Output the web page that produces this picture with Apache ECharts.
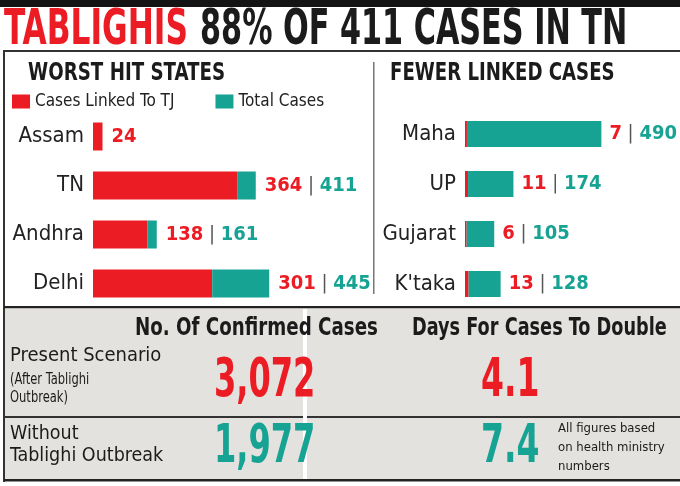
<!DOCTYPE html>
<html>
<head>
<meta charset="utf-8">
<script src="https://cdn.jsdelivr.net/npm/echarts@6/dist/echarts.min.js"></script>
<style>
  html, body { margin: 0; padding: 0; background: #fff; }
  #main { width: 680px; height: 486px; }
</style>
</head>
<body>
<div id="main"></div>
<script>
// worst hit states
const leftStates = ['Assam', 'TN', 'Andhra', 'Delhi'];
const leftLinked = [24, 364, 138, 301];
const leftTotal = [24, 411, 161, 445];
// fewer linked cases
const rightStates = ['Maha', 'UP', 'Gujarat', "K'taka"];
const rightLinked = [7, 11, 6, 13];
const rightTotal = [490, 174, 105, 128];
// bottom table
const scenarioNames = ['Present Scenario', 'Without'];
const confirmedCases = ['3,072', '1,977'];
const doublingDays = ['4.1', '7.4'];

const RED = '#ec1c24';
const TEAL = '#17a393';
const FONT = "'DejaVu Sans Condensed', sans-serif";

function rest(linked, total) {
  return total.map((t, i) => t - linked[i]);
}

function valueLabel(linked, total) {
  return function (p) {
    const i = p.dataIndex;
    if (total[i] === linked[i]) return '{r|' + linked[i] + '}';
    return '{r|' + linked[i] + '}{s| | }{t|' + total[i] + '}';
  };
}

const labelRich = {
  r: { color: RED, fontSize: 20, fontWeight: 'bold', fontFamily: FONT },
  s: { color: '#555', fontSize: 20, fontFamily: FONT },
  t: { color: TEAL, fontSize: 20, fontWeight: 'bold', fontFamily: FONT }
};

// squeezed text, the paper uses a narrow face
function txt(x, y, text, font, fill, sx, extra) {
  return {
    type: 'text', x: x, y: y, scaleX: sx || 1,
    style: Object.assign({ text: text, font: font, fill: fill, verticalAlign: 'top' }, extra || {})
  };
}

let chart = echarts.init(document.getElementById('main'));
chart.setOption({
  animation: false,
  legend: {
    left: 12, top: 93, padding: 0,
    itemWidth: 18, itemHeight: 14, itemGap: 41,
    icon: 'rect',
    data: ['Cases Linked To TJ', 'Total Cases'],
    textStyle: { fontSize: 17, color: '#222', fontFamily: FONT }
  },
  grid: [
    { left: 93, top: 112, width: 198, height: 196 },
    { left: 465, top: 109, width: 167, height: 200 }
  ],
  xAxis: [
    { gridIndex: 0, type: 'value', min: 0, max: 500, show: false },
    { gridIndex: 1, type: 'value', min: 0, max: 600, show: false }
  ],
  yAxis: [
    {
      gridIndex: 0, type: 'category', data: leftStates, inverse: true,
      axisLine: { show: false }, axisTick: { show: false },
      axisLabel: { fontSize: 22, color: '#222', margin: 9, fontFamily: FONT }
    },
    {
      gridIndex: 1, type: 'category', data: rightStates, inverse: true,
      axisLine: { show: false }, axisTick: { show: false },
      axisLabel: { fontSize: 22, color: '#222', margin: 9, fontFamily: FONT }
    }
  ],
  series: [
    {
      name: 'Cases Linked To TJ', type: 'bar', stack: 'l',
      xAxisIndex: 0, yAxisIndex: 0, barWidth: 28,
      itemStyle: { color: RED }, data: leftLinked
    },
    {
      name: 'Total Cases', type: 'bar', stack: 'l',
      xAxisIndex: 0, yAxisIndex: 0, barWidth: 28,
      itemStyle: { color: TEAL }, data: rest(leftLinked, leftTotal),
      label: {
        show: true, position: 'right', distance: 9,
        formatter: valueLabel(leftLinked, leftTotal), rich: labelRich
      }
    },
    {
      name: 'Cases Linked To TJ', type: 'bar', stack: 'r',
      xAxisIndex: 1, yAxisIndex: 1, barWidth: 26,
      itemStyle: { color: RED }, data: rightLinked
    },
    {
      name: 'Total Cases', type: 'bar', stack: 'r',
      xAxisIndex: 1, yAxisIndex: 1, barWidth: 26,
      itemStyle: { color: TEAL }, data: rest(rightLinked, rightTotal),
      label: {
        show: true, position: 'right', distance: 8,
        formatter: valueLabel(rightLinked, rightTotal), rich: labelRich
      }
    }
  ],
  graphic: [
    // top black band
    { type: 'rect', shape: { x: 0, y: 0, width: 680, height: 7 }, style: { fill: '#141414' } },
    // headline
    txt(4, 6, 'TABLIGHIS', 'bold 50px ' + FONT, RED, 0.694),
    txt(200, 6, '88% OF 411 CASES IN TN', 'bold 50px ' + FONT, '#1b1b1b', 0.673),
    // frame lines
    { type: 'rect', shape: { x: 3, y: 50, width: 677, height: 2 }, style: { fill: '#333' } },
    { type: 'rect', shape: { x: 3, y: 50, width: 2, height: 432 }, style: { fill: '#333' } },
    { type: 'rect', shape: { x: 373, y: 62, width: 1.5, height: 232 }, style: { fill: '#777' } },
    // panel headings
    txt(28, 62, 'WORST HIT STATES', 'bold 24px ' + FONT, '#1b1b1b', 0.845),
    txt(390, 62, 'FEWER LINKED CASES', 'bold 24px ' + FONT, '#1b1b1b', 0.84),
    // bottom table
    { type: 'rect', shape: { x: 4, y: 306, width: 676, height: 2.5 }, style: { fill: '#222' } },
    { type: 'rect', shape: { x: 5, y: 308.5, width: 675, height: 172 }, style: { fill: '#e4e2de' } },
    { type: 'rect', shape: { x: 303, y: 309, width: 4, height: 172 }, style: { fill: '#fff' } },
    { type: 'rect', shape: { x: 5, y: 416, width: 675, height: 2 }, style: { fill: '#333' } },
    { type: 'rect', shape: { x: 303, y: 414, width: 4, height: 6 }, style: { fill: '#fff' } },
    { type: 'rect', shape: { x: 4, y: 479, width: 676, height: 2.5 }, style: { fill: '#222' } },
    txt(135, 317, 'No. Of Confirmed Cases', 'bold 24px ' + FONT, '#1b1b1b', 0.845),
    txt(412, 317, 'Days For Cases To Double', 'bold 24px ' + FONT, '#1b1b1b', 0.82),
    txt(10, 346, scenarioNames[0], '20px ' + FONT, '#1b1b1b', 1),
    txt(10, 371, '(After Tablighi\nOutbreak)', '16px ' + FONT, '#1b1b1b', 0.8, { lineHeight: 18 }),
    txt(10, 423, scenarioNames[1] + '\nTablighi Outbreak', '19.5px ' + FONT, '#1b1b1b', 1, { lineHeight: 22 }),
    txt(214, 355, confirmedCases[0], 'bold 54px ' + FONT, RED, 0.66),
    txt(214, 421, confirmedCases[1], 'bold 54px ' + FONT, TEAL, 0.66),
    txt(481, 355, doublingDays[0], 'bold 54px ' + FONT, RED, 0.68),
    txt(481, 421, doublingDays[1], 'bold 54px ' + FONT, TEAL, 0.68),
    txt(558, 419, 'All figures based\non health ministry\nnumbers', '13px ' + FONT, '#1b1b1b', 1, { lineHeight: 19 })
  ]
});
</script>
</body>
</html>
